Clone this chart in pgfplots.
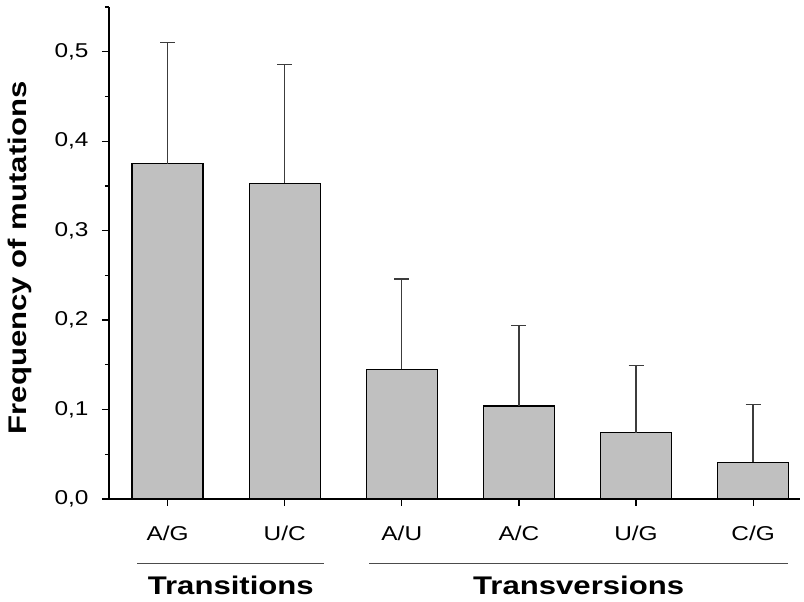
\documentclass[border=0pt]{standalone}
\usepackage{pgfplots}
\pgfplotsset{compat=1.18}
\usepackage{fontspec}
\setmainfont{Liberation Sans}[FakeStretch=1.22]
\definecolor{barfill}{RGB}{192,192,192}
\definecolor{errcol}{RGB}{60,60,60}
\begin{document}
\begin{tikzpicture}
\useasboundingbox (-109pt,-103pt) rectangle (695pt,499pt);
\begin{axis}[
  at={(0pt,0pt)}, anchor=south west,
  scale only axis,
  width=691pt, height=492pt,
  xmin=-0.5, xmax=5.4,
  ymin=0, ymax=0.55,
  axis x line*=bottom, axis y line*=left,
  axis line style={line width=1.2pt},
  xtick={0,1,2,3,4,5},
  xticklabels={A/G,U/C,A/U,A/C,U/G,C/G},
  ytick={0,0.1,0.2,0.3,0.4,0.5},
  minor ytick={0.05,0.15,0.25,0.35,0.45,0.55},
  tick align=outside,
  major tick length=7pt, minor tick length=4pt,
  tick style={line width=1.2pt, black},
  /pgf/number format/.cd, use comma, fixed, fixed zerofill, precision=1, assume math mode=true,
  /pgfplots/.cd,
  yticklabel style={font=\fontsize{20}{22}\selectfont, xshift=-10pt},
  xticklabel style={font=\fontsize{20}{22}\selectfont, yshift=-16pt},
  clip=false,
]
\addplot[ybar, bar width=71pt, fill=barfill, draw=black, line width=1.2pt,
  error bars/.cd, y dir=plus, y explicit,
  error bar style={line width=1.3pt, errcol},
  error mark options={rotate=90, mark size=7.5pt, line width=1.3pt, errcol}]
  table[x=x, y=y, y error=e] {
x y e
0 0.375 0.135
1 0.353 0.133
2 0.145 0.101
3 0.104 0.090
4 0.074 0.075
5 0.041 0.065
};
\draw[line width=0.6pt, black!70] ([yshift=-64pt]axis cs:-0.26,0) -- ([yshift=-64pt]axis cs:1.34,0);
\draw[line width=0.6pt, black!70] ([yshift=-64pt]axis cs:1.72,0) -- ([yshift=-64pt]axis cs:5.30,0);
\node[font=\fontsize{25.5}{27}\selectfont\bfseries] at ([yshift=-86pt]axis cs:0.54,0) {Transitions};
\node[font=\fontsize{25.5}{27}\selectfont\bfseries] at ([yshift=-86pt]axis cs:3.51,0) {Transversions};
\node[font=\fontsize{25.5}{27}\selectfont\bfseries, rotate=90, anchor=base] at ([xshift=-82pt]axis description cs:0,0.49) {Frequency of mutations};
\end{axis}
\end{tikzpicture}
\end{document}
